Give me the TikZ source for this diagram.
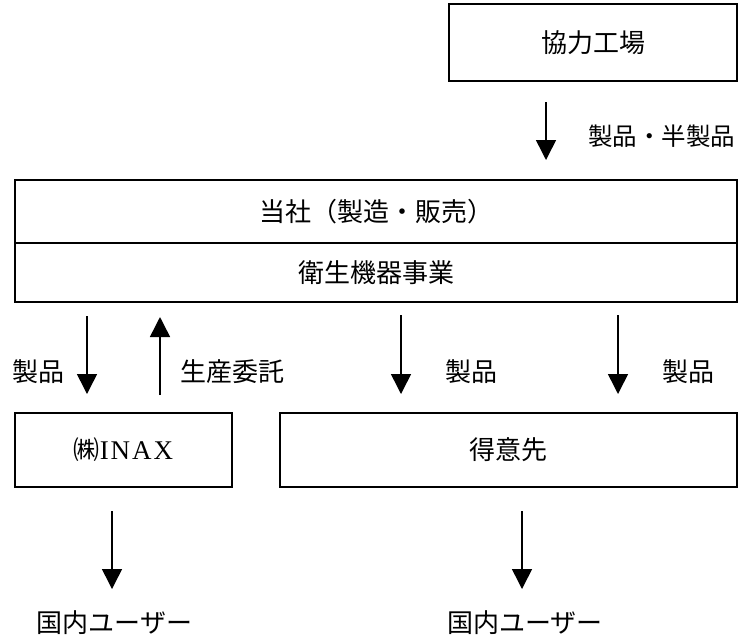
\documentclass[tikz,border=0pt]{standalone}
\usepackage{fontspec}
\setmainfont{Liberation Serif}
\newfontfamily\jp{Noto Sans CJK JP}
\usetikzlibrary{arrows.meta}
\begin{document}
\begin{tikzpicture}[x=1pt,y=-1pt,
  box/.style={draw, line width=1.6pt, inner sep=0pt, font=\jp\fontsize{26}{26}\selectfont},
  arr/.style={line width=1.5pt, -{Triangle[width=20pt,length=20pt]}},
  lbl/.style={inner sep=0pt, font=\jp\fontsize{26}{26}\selectfont}]
\useasboundingbox (0,0) rectangle (743,641);
% boxes
\node[box, minimum width=288pt, minimum height=77pt] (kyo) at (593,42.5) {協力工場};
\node[box, minimum width=722pt, minimum height=63pt] (top) at (376,211.5) {当社（製造・販売）};
\node[box, minimum width=722pt, minimum height=59pt] (eisei) at (376,272.5) {衛生機器事業};
\node[box, minimum width=217pt, minimum height=74pt] (inax) at (123.5,450) {㈱{\rmfamily\fontsize{27}{27}\selectfont I\kern2pt N\kern2pt A\kern2pt X}};
\node[box, minimum width=457pt, minimum height=74pt] (tokui) at (508.5,450) {得意先};
% user labels
\node[lbl] (userL) at (114.5,623) {国内ユーザー};
\node[lbl] (userR) at (525,623) {国内ユーザー};
% arrow end points
\coordinate (a1s) at (546,102); \coordinate (a1e) at (546,160);
\coordinate (a2s) at (87,316);  \coordinate (a2e) at (87,394);
\coordinate (a3s) at (160,395); \coordinate (a3e) at (160,317);
\coordinate (a4s) at (401,315); \coordinate (a4e) at (401,394);
\coordinate (a5s) at (618,315); \coordinate (a5e) at (618,394);
\coordinate (a6s) at (112,511); \coordinate (a6e) at (112,589);
\coordinate (a7s) at (522,511); \coordinate (a7e) at (522,589);
\draw[arr] (a1s) -- (a1e);
\draw[arr] (a2s) -- (a2e);
\draw[arr] (a3s) -- (a3e);
\draw[arr] (a4s) -- (a4e);
\draw[arr] (a5s) -- (a5e);
\draw[arr] (a6s) -- (a6e);
\draw[arr] (a7s) -- (a7e);
% arrow labels
\node[lbl, anchor=west, font=\jp\fontsize{24.5}{24.5}\selectfont] (l1) at (588,136) {製品・半製品};
\node[lbl, anchor=west] (l2) at (12,372) {製品};
\node[lbl, anchor=west] (l3) at (180,372) {生産委託};
\node[lbl, anchor=west] (l4) at (445,372) {製品};
\node[lbl, anchor=west] (l5) at (662,372) {製品};
\end{tikzpicture}
\end{document}
